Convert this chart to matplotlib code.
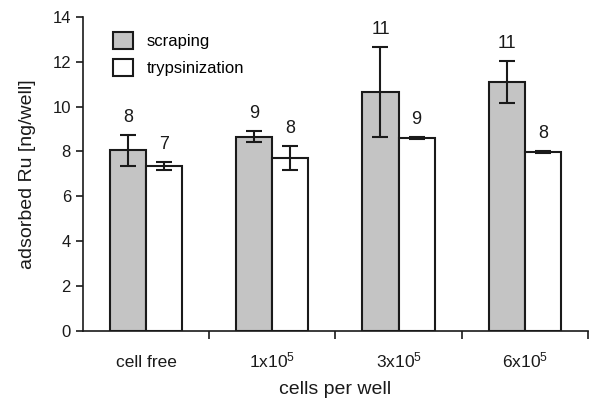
import numpy as np
import matplotlib
matplotlib.use('Agg')
import matplotlib.pyplot as plt

plt.rcParams['font.family'] = ['Liberation Sans', 'DejaVu Sans']
plt.rcParams['mathtext.fontset'] = 'custom'
plt.rcParams['mathtext.rm'] = 'Liberation Sans'

# data
categories = ['cell free', r'$\mathregular{1x10^5}$', r'$\mathregular{3x10^5}$', r'$\mathregular{6x10^5}$']
scraping = [8.05, 8.65, 10.65, 11.1]
scraping_err = [0.69, 0.25, 2.0, 0.95]
trypsin = [7.35, 7.7, 8.6, 7.98]
trypsin_err = [0.2, 0.55, 0.05, 0.05]
scraping_n = ['8', '9', '11', '11']
trypsin_n = ['7', '8', '9', '8']

fig = plt.figure(figsize=(6, 4.11), dpi=100)
ax = fig.add_axes([0.138, 0.195, 0.842, 0.764])

x = np.arange(len(categories))
w = 0.286
ekw = dict(ecolor='#1a1a1a', elinewidth=1.5, capsize=6, capthick=1.5)
ax.bar(x - w / 2, scraping, w, yerr=scraping_err, color='#c4c4c4', edgecolor='#1a1a1a',
       linewidth=1.5, label='scraping', error_kw=ekw)
ax.bar(x + w / 2, trypsin, w, yerr=trypsin_err, color='white', edgecolor='#1a1a1a',
       linewidth=1.5, label='trypsinization', error_kw=ekw)

# n labels above the error bars
for i in range(len(categories)):
    ax.text(x[i] - w / 2, scraping[i] + scraping_err[i] + 0.4, scraping_n[i],
            ha='center', va='bottom', fontsize=13, color='#1a1a1a')
    ax.text(x[i] + w / 2, trypsin[i] + trypsin_err[i] + 0.4, trypsin_n[i],
            ha='center', va='bottom', fontsize=13, color='#1a1a1a')

ax.set_xlim(-0.5, len(categories) - 0.5)
ax.set_ylim(0, 14)
ax.set_yticks(np.arange(0, 15, 2))
ax.set_xticks(x)
ax.set_xticklabels(categories)
for lab in ax.get_xticklabels():
    lab.set_verticalalignment('baseline')
ax.set_xticks(np.arange(0.5, len(categories), 1), minor=True)
ax.tick_params(axis='x', which='major', length=0, pad=26, labelsize=12.5, colors='#1a1a1a')
ax.tick_params(axis='x', which='minor', length=6, width=1.2, direction='out', color='#1a1a1a')
ax.tick_params(axis='y', length=5, width=1.2, labelsize=12, colors='#1a1a1a')

for s in ['top', 'right']:
    ax.spines[s].set_visible(False)
for s in ['left', 'bottom']:
    ax.spines[s].set_linewidth(1.2)
    ax.spines[s].set_color('#1a1a1a')

ax.set_xlabel('cells per well', fontsize=14, color='#1a1a1a', labelpad=8)
ax.set_ylabel('adsorbed Ru [ng/well]', fontsize=14, color='#1a1a1a', labelpad=12)

ax.legend(loc='upper left', bbox_to_anchor=(0.03, 1.0), frameon=False, fontsize=12,
          handlelength=1.2, handleheight=1.2, labelspacing=0.6)

fig.savefig('out.png', dpi=100)
